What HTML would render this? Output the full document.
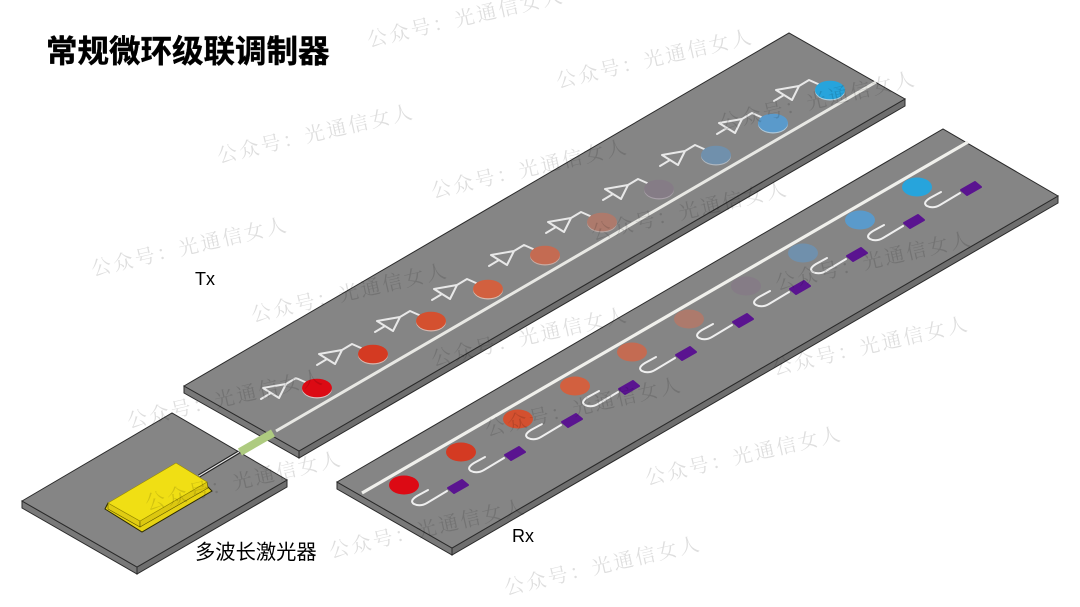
<!DOCTYPE html>
<html><head><meta charset="utf-8"><style>
html,body{margin:0;padding:0;background:#fff;width:1080px;height:607px;overflow:hidden}
svg{display:block;filter:blur(.35px)}
.wm{font-family:"Liberation Serif","Noto Serif CJK SC",serif;font-size:20px;letter-spacing:2.4px;fill:#000;fill-opacity:.13}
.lb{font-family:"Liberation Sans","Noto Sans CJK SC",sans-serif;fill:#000}
.amp{fill:none;stroke:#e8e8e8;stroke-width:2;stroke-linejoin:round;stroke-linecap:round}
.u{fill:none;stroke:#efefef;stroke-width:2;stroke-linecap:round}
</style></head><body>
<svg width="1080" height="607" viewBox="0 0 1080 607" xmlns="http://www.w3.org/2000/svg">
<defs>
<g id="a"><path class="amp" d="M-54,0 L-31,-4 L-38,10 Z M-56,11 L-46,5 M-31,-4 L-21,-10 L-12,-6"/></g>
<g id="r"><path class="u" d="M24,5 L13,11 Q5,16 10,19 Q16,22 23,18 L43,6"/><polygon points="44,3 58,-5 64,0 50,8" fill="#5a1490" stroke="#5a1490" stroke-width="2" stroke-linejoin="round"/></g>
</defs>

<!-- Tx plate -->
<polygon points="184,386 299,451 299,458 184,393" fill="#797979" stroke="#2a2a2a" stroke-width="1"/>
<polygon points="299,451 905,99 905,106 299,458" fill="#6e6e6e" stroke="#2a2a2a" stroke-width="1"/>
<polygon points="184,386 789,33 905,99 299,451" fill="#858585" stroke="#2a2a2a" stroke-width="1"/>
<line x1="276" y1="431" x2="876" y2="82" stroke="#e8e8e4" stroke-width="3"/>
<!-- Rx plate -->
<polygon points="337,482 452,548 452,555 337,489" fill="#797979" stroke="#2a2a2a" stroke-width="1"/>
<polygon points="452,548 1058,196 1058,203 452,555" fill="#6e6e6e" stroke="#2a2a2a" stroke-width="1"/>
<polygon points="337,482 943,129 1058,196 452,548" fill="#858585" stroke="#2a2a2a" stroke-width="1"/>
<line x1="362" y1="493" x2="968" y2="142" stroke="#f0f0ec" stroke-width="3.2"/>
<!-- Laser plate -->
<polygon points="22,501 137,567 137,574 22,508" fill="#797979" stroke="#2a2a2a" stroke-width="1"/>
<polygon points="137,567 287,480 287,487 137,574" fill="#6e6e6e" stroke="#2a2a2a" stroke-width="1"/>
<polygon points="22,501 172,413 287,480 137,567" fill="#858585" stroke="#2a2a2a" stroke-width="1"/>

<!-- fiber -->
<line x1="199" y1="476" x2="239" y2="452" stroke="#222" stroke-width="3.4"/>
<line x1="199" y1="476" x2="239" y2="452" stroke="#e8e8e8" stroke-width="1.2"/>
<line x1="240" y1="452" x2="273" y2="433" stroke="#aecb80" stroke-width="8"/>

<!-- yellow laser -->
<polygon points="105,509 142,532 212,491 207,486 140,521 108,503" fill="#e6d212" stroke="#2c2a00" stroke-width="1"/>
<polygon points="108,503 140,521 140,527 108,509" fill="#e0cc12" stroke="#5a5200" stroke-width=".6"/>
<polygon points="140,521 207,482 208,488 140,527" fill="#dcc810" stroke="#5a5200" stroke-width=".6"/>
<polygon points="108,503 176,463 207,482 140,521" fill="#f0df14" stroke="#9a8d00" stroke-width=".6"/>

<!-- Tx amps -->
<use href="#a" x="317" y="388"/><use href="#a" x="373" y="354"/><use href="#a" x="431" y="321"/><use href="#a" x="488" y="289"/><use href="#a" x="545" y="255"/><use href="#a" x="602" y="222"/><use href="#a" x="659" y="189"/><use href="#a" x="716" y="155"/><use href="#a" x="773" y="123"/><use href="#a" x="830" y="90"/>

<!-- Tx rings -->
<g stroke="none">
<ellipse cx="317" cy="389" rx="15" ry="9.5" fill="#d8c4c4"/><ellipse cx="317" cy="388" rx="15" ry="9.3" fill="#dc0a14"/>
<ellipse cx="373" cy="355" rx="15" ry="9.5" fill="#d8b8b0"/><ellipse cx="373" cy="354" rx="15" ry="9.3" fill="#d43a22"/>
<ellipse cx="431" cy="322" rx="15" ry="9.5" fill="#d8b8b0"/><ellipse cx="431" cy="321" rx="15" ry="9.3" fill="#d4502f"/>
<ellipse cx="488" cy="290" rx="15" ry="9.5" fill="#d8bcb0"/><ellipse cx="488" cy="289" rx="15" ry="9.3" fill="#d2603f"/>
<ellipse cx="545" cy="256" rx="15" ry="9.5" fill="#c8aca4"/><ellipse cx="545" cy="255" rx="15" ry="9.3" fill="#c46b52"/>
<ellipse cx="602" cy="223" rx="15" ry="9.5" fill="#b8a8a4"/><ellipse cx="602" cy="222" rx="15" ry="9.3" fill="#ad7a6c"/>
<ellipse cx="659" cy="190" rx="15" ry="9.5" fill="#a8a0a8"/><ellipse cx="659" cy="189" rx="15" ry="9.3" fill="#857c86"/>
<ellipse cx="716" cy="156" rx="15" ry="9.5" fill="#b0b8c0"/><ellipse cx="716" cy="155" rx="15" ry="9.3" fill="#7090ac"/>
<ellipse cx="773" cy="124" rx="15" ry="9.5" fill="#b0c8d8"/><ellipse cx="773" cy="123" rx="15" ry="9.3" fill="#5a9acb"/>
<ellipse cx="830" cy="91" rx="15" ry="9.5" fill="#b0d0e0"/><ellipse cx="830" cy="90" rx="15" ry="9.3" fill="#27a4dc"/>
</g>

<!-- Rx filters -->
<use href="#r" x="404" y="485"/><use href="#r" x="461" y="452"/><use href="#r" x="518" y="419"/><use href="#r" x="575" y="386"/><use href="#r" x="632" y="352"/><use href="#r" x="689" y="319"/><use href="#r" x="746" y="286"/><use href="#r" x="803" y="253"/><use href="#r" x="860" y="220"/><use href="#r" x="917" y="187"/>

<!-- Rx rings -->
<g stroke="none">
<ellipse cx="404" cy="485" rx="15" ry="9.5" fill="#dc0a14"/>
<ellipse cx="461" cy="452" rx="15" ry="9.5" fill="#d43a22"/>
<ellipse cx="518" cy="419" rx="15" ry="9.5" fill="#d4502f"/>
<ellipse cx="575" cy="386" rx="15" ry="9.5" fill="#d2603f"/>
<ellipse cx="632" cy="352" rx="15" ry="9.5" fill="#c46b52"/>
<ellipse cx="689" cy="319" rx="15" ry="9.5" fill="#ad7a6c"/>
<ellipse cx="746" cy="286" rx="15" ry="9.5" fill="#857c86"/>
<ellipse cx="803" cy="253" rx="15" ry="9.5" fill="#7090ac"/>
<ellipse cx="860" cy="220" rx="15" ry="9.5" fill="#5a9acb"/>
<ellipse cx="917" cy="187" rx="15" ry="9.5" fill="#27a4dc"/>
</g>

<!-- Labels -->
<text class="lb" x="46" y="62" font-size="31.5" font-weight="700" stroke="#000" stroke-width=".4">常规微环级联调制器</text>
<text class="lb" x="195" y="285" font-size="18">Tx</text>
<text class="lb" x="195" y="559" font-size="20.3">多波长激光器</text>
<text class="lb" x="512" y="542" font-size="18">Rx</text>

<!-- Watermarks -->
<g class="wm">
<text transform="translate(369,47) rotate(-13)">公众号：光通信女人</text>
<text transform="translate(558,88) rotate(-13)">公众号：光通信女人</text>
<text transform="translate(219,163) rotate(-13)">公众号：光通信女人</text>
<text transform="translate(93,276) rotate(-13)">公众号：光通信女人</text>
<text transform="translate(433,198) rotate(-13)">公众号：光通信女人</text>
<text transform="translate(253,322) rotate(-13)">公众号：光通信女人</text>
<text transform="translate(593,240) rotate(-13)">公众号：光通信女人</text>
<text transform="translate(433,366) rotate(-13)">公众号：光通信女人</text>
<text transform="translate(777,290) rotate(-13)">公众号：光通信女人</text>
<text transform="translate(129,428) rotate(-13)">公众号：光通信女人</text>
<text transform="translate(774,375) rotate(-13)">公众号：光通信女人</text>
<text transform="translate(147,510) rotate(-13)">公众号：光通信女人</text>
<text transform="translate(487,436) rotate(-13)">公众号：光通信女人</text>
<text transform="translate(647,485) rotate(-13)">公众号：光通信女人</text>
<text transform="translate(331,558) rotate(-13)">公众号：光通信女人</text>
<text transform="translate(506,595) rotate(-13)">公众号：光通信女人</text>
<text transform="translate(721,130) rotate(-13)">公众号：光通信女人</text>
</g>
</svg>
</body></html>
